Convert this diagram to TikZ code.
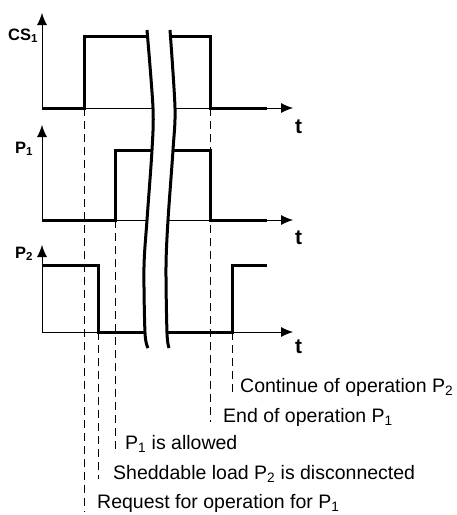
\documentclass[tikz,border=0pt]{standalone}
\usepackage{fontspec}
\setmainfont{Liberation Sans}
\usetikzlibrary{arrows.meta}

\begin{document}
\begin{tikzpicture}[x=1pt,y=-1pt,
    signal/.style={line width=3pt},
    marker/.style={line width=0.8pt,dash pattern=on 8pt off 5pt}]
  \useasboundingbox (0,0) rectangle (457,515);
  % axis names
  \begin{scope}[every node/.style={font=\fontsize{16.5}{18}\selectfont\bfseries,inner sep=0pt,anchor=base west}]
  \node (cs) at (8,40) {CS\textsubscript{1}};
  \node (p1) at (15,153) {P\textsubscript{1}};
  \node (p2) at (15,258) {P\textsubscript{2}};
  \end{scope}
  \begin{scope}[every node/.style={font=\fontsize{21}{22}\selectfont\bfseries,inner sep=0pt,anchor=base west}]
  \node (t1) at (295,133) {t};
  \node (t2) at (295,244) {t};
  \node (t3) at (295,353) {t};
  \end{scope}
  % axes
  \coordinate (o1) at (42,108); \coordinate (v1) at (42,13);  \coordinate (h1) at (293,108);
  \coordinate (o2) at (42,220); \coordinate (v2) at (42,125); \coordinate (h2) at (293,220);
  \coordinate (o3) at (42,332); \coordinate (v3) at (42,245); \coordinate (h3) at (293,332);
  \begin{scope}[every edge/.style={draw=black,line width=0.8pt,-{Latex[length=12pt,width=10pt]}}]
  \path (o1) edge (v1) (o1) edge (h1);
  \path (o2) edge (v2) (o2) edge (h2);
  \path (o3) edge (v3) (o3) edge (h3);
  \end{scope}
  % signals
  \draw[signal] (o1) -- (84,108) coordinate (a) -- (84,36) -- (210,36) -- (210,108) coordinate (e) -- (267,108);
  \draw[signal] (o2) -- (115,220) coordinate (c) -- (115,150) -- (210,150) -- (210,220) -- (267,220);
  \draw[signal] (42,265) -- (98,265) -- (98,332) coordinate (b) -- (232,332) coordinate (d) -- (232,265) -- (267,265);
  % time break
  \fill[white] plot[smooth] coordinates {(147,30) (153,108) (152,150) (147,220) (144,267) (145,333) (148,348)}
    -- plot[smooth] coordinates {(169,348) (167,333) (166,267) (168,220) (173,150) (175,108) (170,30)} -- cycle;
  \draw[line width=3pt] plot[smooth] coordinates {(147,30) (153,108) (152,150) (147,220) (144,267) (145,333) (148,348)};
  \draw[line width=3pt] plot[smooth] coordinates {(170,30) (175,108) (173,150) (168,220) (166,267) (167,333) (169,348)};
  % events
  \begin{scope}[every node/.style={font=\fontsize{19.5}{22}\selectfont,inner sep=0pt,anchor=base west}]
  \node (req) at (97,508) {Request for operation for P\textsubscript{1}};
  \node (shed) at (113,479) {Sheddable load P\textsubscript{2} is disconnected};
  \node (allow) at (125,449) {P\textsubscript{1} is allowed};
  \node (stop) at (223,422) {End of operation P\textsubscript{1}};
  \node (cont) at (240,392) {Continue of operation P\textsubscript{2}};
  \end{scope}
  \begin{scope}[every edge/.style={draw=black,marker}]
  \path (a) edge (a |- req.south);
  \path (b) edge (b |- shed.base);
  \path (c) edge (c |- allow.base);
  \path (e) edge (e |- stop.base);
  \path (d) edge (d |- cont.base);
  \end{scope}
\end{tikzpicture}
\end{document}
